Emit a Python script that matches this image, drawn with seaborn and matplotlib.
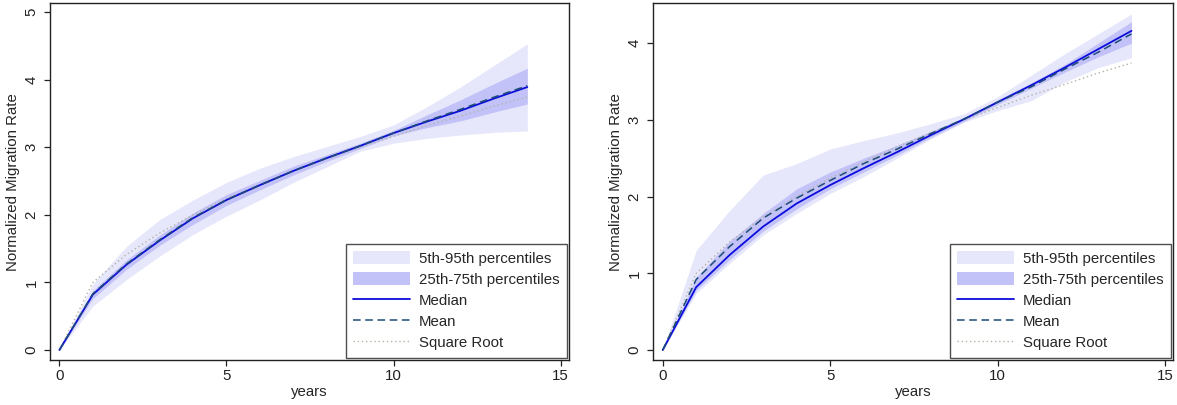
import numpy as np
import pandas as pd
import matplotlib
matplotlib.use("Agg")
import matplotlib.pyplot as plt
import seaborn as sns
from matplotlib.patches import Patch
from matplotlib.lines import Line2D

years = [0, 1, 2, 3, 4, 5, 6, 7, 8, 9, 10, 11, 12, 13, 14]
sqrt_root = [0, 1.0, 1.41, 1.73, 2.0, 2.24, 2.45, 2.65, 2.83, 3.0, 3.16, 3.32, 3.46, 3.61, 3.74]

# Left panel
left_median = [0, 0.82, 1.26, 1.62, 1.95, 2.22, 2.44, 2.65, 2.84, 3.02, 3.21, 3.38, 3.54, 3.72, 3.89]
left_mean = [0, 0.83, 1.27, 1.63, 1.96, 2.22, 2.44, 2.65, 2.84, 3.02, 3.21, 3.39, 3.56, 3.74, 3.91]
left_p05 = [0, 0.65, 1.04, 1.39, 1.71, 1.98, 2.22, 2.48, 2.71, 2.94, 3.06, 3.13, 3.18, 3.22, 3.24]
left_p95 = [0, 0.98, 1.53, 1.93, 2.22, 2.48, 2.69, 2.86, 3.01, 3.16, 3.33, 3.60, 3.89, 4.21, 4.53]
left_p25 = [0, 0.76, 1.19, 1.55, 1.86, 2.14, 2.37, 2.59, 2.79, 2.98, 3.17, 3.29, 3.39, 3.52, 3.64]
left_p75 = [0, 0.88, 1.33, 1.70, 2.03, 2.30, 2.51, 2.72, 2.89, 3.06, 3.25, 3.48, 3.70, 3.94, 4.17]

# Right panel
right_median = [0, 0.82, 1.24, 1.61, 1.91, 2.15, 2.37, 2.58, 2.80, 3.01, 3.23, 3.45, 3.68, 3.92, 4.16]
right_mean = [0, 0.92, 1.35, 1.72, 1.98, 2.21, 2.43, 2.62, 2.82, 3.01, 3.23, 3.43, 3.66, 3.88, 4.12]
right_p05 = [0, 0.74, 1.13, 1.50, 1.78, 2.04, 2.26, 2.50, 2.75, 2.97, 3.12, 3.25, 3.49, 3.68, 3.81]
right_p95 = [0, 1.30, 1.82, 2.28, 2.43, 2.62, 2.73, 2.83, 2.95, 3.08, 3.30, 3.58, 3.86, 4.12, 4.38]
right_p25 = [0, 0.78, 1.18, 1.55, 1.84, 2.10, 2.32, 2.54, 2.77, 2.98, 3.20, 3.41, 3.62, 3.82, 4.00]
right_p75 = [0, 0.95, 1.42, 1.78, 2.10, 2.32, 2.50, 2.67, 2.85, 3.03, 3.26, 3.48, 3.72, 4.00, 4.28]

legend_labels = ["5th-95th percentiles", "25th-75th percentiles", "Median", "Mean", "Square Root"]

sns.set_style("ticks")
plt.rcParams["font.family"] = ["Liberation Sans", "DejaVu Sans"]

LIGHT = "#e7e7fc"
MID = "#c2c2f8"
MED = "#0c0cdc"
MEAN = "#1d4b76"
SQ = "#b4b4a4"
FS = 10.8

fig = plt.figure(figsize=(11.77, 4.05), dpi=100)
ax1 = fig.add_axes([0.0425, 0.111, 0.441, 0.881])
ax2 = fig.add_axes([0.5548, 0.111, 0.4418, 0.881])


def draw(ax, med, mean, p05, p95, p25, p75, xlim, ylim, yticks):
    ax.fill_between(years, p05, p95, color=LIGHT, linewidth=0)
    ax.fill_between(years, p25, p75, color=MID, linewidth=0)
    df = pd.DataFrame({"years": years, "sq": sqrt_root, "med": med, "mean": mean})
    sns.lineplot(data=df, x="years", y="sq", ax=ax, color=SQ, linestyle=(0, (1, 2)), linewidth=1.0)
    sns.lineplot(data=df, x="years", y="med", ax=ax, color=MED, linewidth=1.3)
    sns.lineplot(data=df, x="years", y="mean", ax=ax, color=MEAN, linestyle=(0, (5, 3)), linewidth=1.1)
    ax.set_xlim(*xlim)
    ax.set_ylim(*ylim)
    ax.set_xticks([0, 5, 10, 15])
    ax.set_yticks(yticks)
    ax.set_yticklabels([str(t) for t in yticks], rotation=90, va="center")
    ax.tick_params(labelsize=FS, length=4.3, width=0.9, colors="#222222")
    ax.tick_params(axis="x", pad=2.5)
    ax.tick_params(axis="y", pad=4)
    ax.set_xlabel("years", fontsize=FS, labelpad=1)
    ax.set_ylabel("Normalized Migration Rate", fontsize=FS, labelpad=3)
    for s in ax.spines.values():
        s.set_visible(True)
        s.set_color("#222222")
        s.set_linewidth(1.0)
    handles = [
        Patch(facecolor=LIGHT, edgecolor="none"),
        Patch(facecolor=MID, edgecolor="none"),
        Line2D([], [], color=MED, linewidth=1.3),
        Line2D([], [], color=MEAN, linestyle=(0, (5, 3)), linewidth=1.1),
        Line2D([], [], color=SQ, linestyle=(0, (1, 2)), linewidth=1.0),
    ]
    leg = ax.legend(handles, legend_labels, loc="lower right", fontsize=FS,
                    frameon=True, fancybox=False, edgecolor="#222222",
                    handlelength=3.8, handleheight=0.95, labelspacing=0.43,
                    borderpad=0.5, handletextpad=0.55, borderaxespad=0.15,
                    bbox_to_anchor=(1.0, 0.0))
    leg.get_frame().set_linewidth(1.0)


draw(ax1, left_median, left_mean, left_p05, left_p95, left_p25, left_p75,
     (-0.28, 15.25), (-0.148, 5.13), [0, 1, 2, 3, 4, 5])
draw(ax2, right_median, right_mean, right_p05, right_p95, right_p25, right_p75,
     (-0.29, 15.24), (-0.13, 4.52), [0, 1, 2, 3, 4])

fig.savefig("out.png", dpi=100)
